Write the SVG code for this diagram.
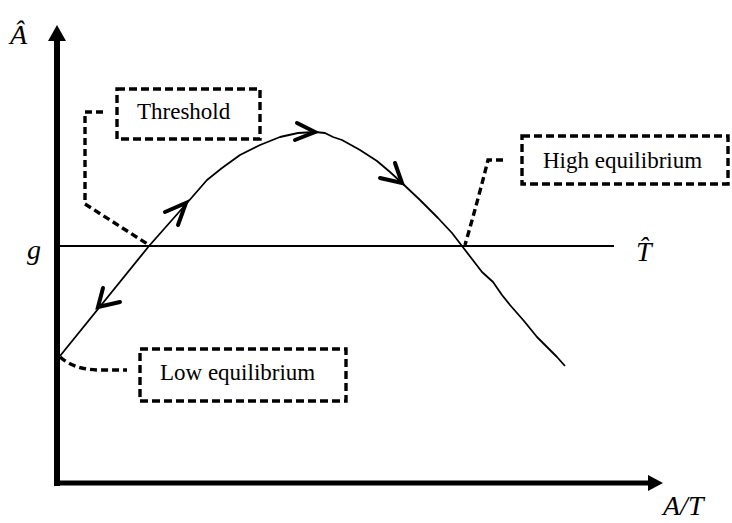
<svg xmlns="http://www.w3.org/2000/svg" width="732" height="523" viewBox="0 0 732 523">
<style>
.box{fill:none;stroke:#000;stroke-width:3.4;stroke-dasharray:8 4}
.lead{fill:none;stroke:#000;stroke-width:3.4;stroke-dasharray:7 4}
.lbl{font-family:'Liberation Serif','Times New Roman','DejaVu Serif',serif;font-size:23px;fill:#000}
.math{font-family:'Liberation Serif','Times New Roman','DejaVu Serif',serif;font-style:italic;font-size:28px;fill:#000}
.chev{fill:none;stroke:#000;stroke-width:4;stroke-linecap:round;stroke-linejoin:miter}
.thin{fill:none;stroke:#000;stroke-width:1.8;stroke-linejoin:round}
</style>
<rect width="732" height="523" fill="#fff"/>
<g id="axes">
  <line x1="57" y1="38" x2="57" y2="486" stroke="#000" stroke-width="6"/>
  <polygon points="57,25 66,41 48,41" fill="#000"/>
  <line x1="54" y1="483" x2="650" y2="483" stroke="#000" stroke-width="5"/>
  <polygon points="663,483 648,475 648,491" fill="#000"/>
  <line x1="57" y1="246" x2="614" y2="246" class="thin"/>
</g>
<g id="axis-labels">
  <text class="math" x="10" y="44">Â</text>
  <text class="math" x="27" y="259">g</text>
  <text class="math" x="636" y="261">T̂</text>
  <text class="math" x="663" y="515" font-size="27">A/T</text>
</g>
<g id="connectors">
  <polyline class="thin" points="60,356 149,246 187,203 207,180 222,168 240,155 260,145 280,137 298,133 315,132 325,133 333,137 342,140 360,150 377,161 390,172 402,183 420,200 438,218 452,233 462,246 472,259 482,272 493,282 502,295 510,305 524,321 537,337 548,348 557,357 565,366"/>
  <polyline class="chev" points="103,288 98,307 120,302"/>
  <polyline class="chev" points="165,212 186,203 178,225"/>
  <polyline class="chev" points="297,123 315,132 295,140"/>
  <polyline class="chev" points="395,163 402,183 380,178"/>
  <path class="lead" d="M103,112 H85 V204 L149,245"/>
  <path class="lead" d="M503,160 H488 Q478,200 465,245"/>
  <path class="lead" d="M60,357 Q75,370 100,370 H127"/>
</g>
<g id="threshold">
  <rect class="box" x="117" y="89" width="143" height="50"/>
  <text class="lbl" x="137" y="119">Threshold</text>
</g>
<g id="high-equilibrium">
  <rect class="box" x="522" y="136" width="206" height="48"/>
  <text class="lbl" x="543" y="168">High equilibrium</text>
</g>
<g id="low-equilibrium">
  <rect class="box" x="140" y="349" width="206" height="52"/>
  <text class="lbl" x="160" y="380">Low equilibrium</text>
</g>
</svg>
